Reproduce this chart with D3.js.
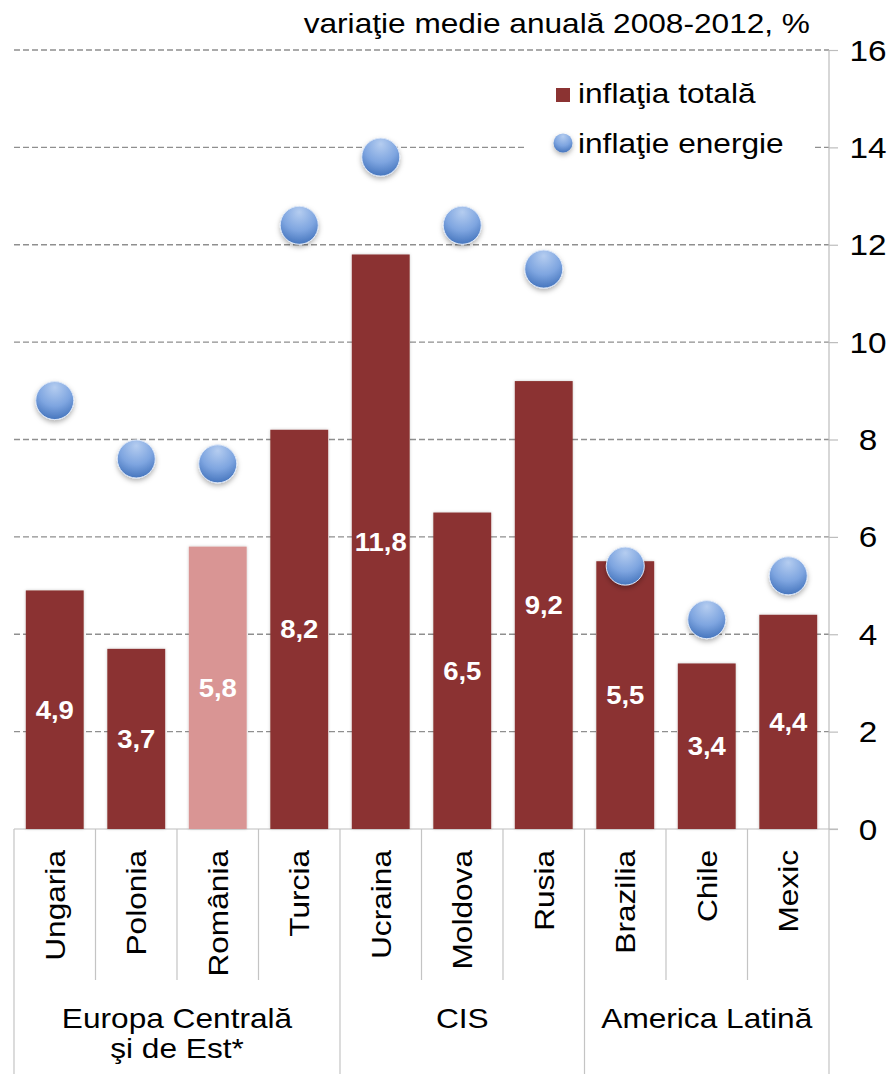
<!DOCTYPE html>
<html>
<head>
<meta charset="utf-8">
<script src="https://cdn.jsdelivr.net/npm/d3@7"></script>
<style>
  html, body { margin: 0; padding: 0; background: #fff; }
  svg { display: block; font-family: "Liberation Sans", Arial, Helvetica, sans-serif; }
</style>
</head>
<body>
<svg id="chart" width="896" height="1076"></svg>
<script>
// Average annual change 2008-2012, %
const categories = ["Ungaria", "Polonia", "România", "Turcia", "Ucraina", "Moldova", "Rusia", "Brazilia", "Chile", "Mexic"];
const totalInflation = [4.9, 3.7, 5.8, 8.2, 11.8, 6.5, 9.2, 5.5, 3.4, 4.4];
const energyInflation = [8.8, 7.6, 7.5, 12.4, 13.8, 12.4, 11.5, 5.4, 4.3, 5.2];
const highlighted = ["România"];
const groupNames = [["Europa Centrală", "şi de Est*"], ["CIS"], ["America Latină"]];
const groupMembers = [["Ungaria", "Polonia", "România", "Turcia"], ["Ucraina", "Moldova", "Rusia"], ["Brazilia", "Chile", "Mexic"]];
const yTicks = [0, 2, 4, 6, 8, 10, 12, 14, 16];
const titleText = "variaţie medie anuală 2008-2012, %";
const legendLabels = ["inflaţia totală", "inflaţie energie"];

const colors = { bar: "#8b3332", barHi: "#d99594", grid: "#8f8f8f", axis: "#bdbdbd", text: "#000" };
const SX = 1.13; // horizontal stretch of the lettering

const svg = d3.select("#chart");
const plotLeft = 14, plotRight = 829, plotTop = 50, plotBottom = 829;

const x = d3.scaleBand().domain(categories).range([plotLeft, plotRight]).padding(0);
const y = d3.scaleLinear().domain([0, 16]).range([plotBottom, plotTop]);
const step = x.step();
const barPad = step * 0.145;
const barW = step - 2 * barPad;

const defs = svg.append("defs");
const barShadow = defs.append("filter").attr("id", "barShadow")
  .attr("x", "-20%").attr("y", "-10%").attr("width", "140%").attr("height", "120%");
barShadow.append("feDropShadow").attr("dx", 0).attr("dy", 0).attr("stdDeviation", 1.6)
  .attr("flood-color", "#000").attr("flood-opacity", 0.22);

const dotShadow = defs.append("filter").attr("id", "dotShadow")
  .attr("x", "-50%").attr("y", "-50%").attr("width", "200%").attr("height", "200%");
dotShadow.append("feDropShadow").attr("dx", 0).attr("dy", 2.5).attr("stdDeviation", 2.5)
  .attr("flood-color", "#000").attr("flood-opacity", 0.3);

const grad = defs.append("radialGradient").attr("id", "dotGrad")
  .attr("cx", "50%").attr("cy", "25%").attr("r", "80%").attr("fx", "50%").attr("fy", "15%");
grad.append("stop").attr("offset", "0%").attr("stop-color", "#b5cdf0");
grad.append("stop").attr("offset", "55%").attr("stop-color", "#7ea5e0");
grad.append("stop").attr("offset", "100%").attr("stop-color", "#3e6fb9");

// Gridlines (dashed) with solid tick stubs on the right
svg.append("g").selectAll("line.grid")
  .data(yTicks.filter(t => t > 0))
  .join("line")
  .attr("x1", plotLeft).attr("x2", plotRight)
  .attr("y1", d => y(d)).attr("y2", d => y(d))
  .attr("stroke", colors.grid).attr("stroke-width", 1.4).attr("stroke-dasharray", "6,3");

const yAxis = d3.axisRight(y).tickValues(yTicks).tickSize(9).tickFormat("");
const axisG = svg.append("g").attr("transform", `translate(${plotRight},0)`).call(yAxis);
axisG.select(".domain").attr("stroke", colors.axis).attr("stroke-width", 1.2)
  .attr("d", `M0,${plotTop}V${plotBottom}`);
axisG.selectAll(".tick line").attr("stroke", colors.axis).attr("stroke-width", 1.2);

// Tick labels
svg.append("g").selectAll("g")
  .data(yTicks)
  .join("g")
  .attr("transform", d => `translate(868,${y(d) + 10.5}) scale(${SX},1)`)
  .append("text")
  .attr("text-anchor", "middle").attr("font-size", 29.5).attr("fill", colors.text)
  .text(d => d);

// Baseline
svg.append("line")
  .attr("x1", plotLeft).attr("x2", plotRight + 9).attr("y1", plotBottom).attr("y2", plotBottom)
  .attr("stroke", colors.axis).attr("stroke-width", 1.2);

// Bars
svg.append("g").selectAll("rect")
  .data(categories)
  .join("rect")
  .attr("x", d => x(d) + barPad)
  .attr("width", barW)
  .attr("y", (d, i) => y(totalInflation[i]))
  .attr("height", (d, i) => y(0) - y(totalInflation[i]))
  .attr("fill", d => highlighted.includes(d) ? colors.barHi : colors.bar)
  .attr("filter", "url(#barShadow)");

// Bar value labels
svg.append("g").selectAll("g")
  .data(categories)
  .join("g")
  .attr("transform", (d, i) => `translate(${x(d) + step / 2},${y(totalInflation[i] / 2) + 9}) scale(1.1,1)`)
  .append("text")
  .attr("text-anchor", "middle").attr("font-size", 25).attr("font-weight", "bold")
  .attr("fill", "#fff")
  .text((d, i) => String(totalInflation[i]).replace(".", ","));

// Energy inflation markers
svg.append("g").selectAll("circle")
  .data(categories)
  .join("circle")
  .attr("cx", d => x(d) + step / 2)
  .attr("cy", (d, i) => y(energyInflation[i]))
  .attr("r", 19)
  .attr("fill", "url(#dotGrad)")
  .attr("stroke", "#dbe6f7").attr("stroke-width", 1)
  .attr("filter", "url(#dotShadow)");

// Category separators and labels
const sepColor = "#c4c4c4";
const innerSeps = categories.slice(1).map(c => x(c))
  .filter(v => !groupMembers.some(g => x(g[0]) === v));
svg.append("g").selectAll("line")
  .data(innerSeps)
  .join("line")
  .attr("x1", d => d).attr("x2", d => d).attr("y1", plotBottom).attr("y2", 980)
  .attr("stroke", sepColor).attr("stroke-width", 1.2);

const groupEdges = groupMembers.map(g => x(g[0])).concat([plotRight]);
svg.append("g").selectAll("line")
  .data(groupEdges)
  .join("line")
  .attr("x1", d => d).attr("x2", d => d).attr("y1", plotBottom).attr("y2", 1074)
  .attr("stroke", sepColor).attr("stroke-width", 1.2);

svg.append("g").selectAll("g")
  .data(categories)
  .join("g")
  .attr("transform", d => `translate(${x(d) + step / 2 + 10},850) rotate(-90) scale(${SX},1)`)
  .append("text")
  .attr("text-anchor", "end").attr("font-size", 28).attr("fill", colors.text)
  .text(d => d);

// Group labels
groupMembers.forEach((g, gi) => {
  const cx = (x(g[0]) + x(g[g.length - 1]) + step) / 2;
  groupNames[gi].forEach((line, li) => {
    svg.append("g")
      .attr("transform", `translate(${cx},${1028 + li * 30}) scale(${SX},1)`)
      .append("text")
      .attr("text-anchor", "middle").attr("font-size", 28).attr("fill", colors.text)
      .text(line);
  });
});

// Title
svg.append("g")
  .attr("transform", `translate(810,33) scale(${SX},1)`)
  .append("text")
  .attr("text-anchor", "end").attr("font-size", 28).attr("fill", colors.text)
  .text(titleText);

// Legend
const legend = svg.append("g");
legend.append("rect").attr("x", 526).attr("y", 64).attr("width", 286).attr("height", 104).attr("fill", "#fff");
legend.append("rect").attr("x", 556).attr("y", 88).attr("width", 14).attr("height", 14).attr("fill", colors.bar);
legend.append("circle").attr("cx", 563).attr("cy", 143).attr("r", 9.5)
  .attr("fill", "url(#dotGrad)").attr("filter", "url(#dotShadow)");
legendLabels.forEach((t, i) => {
  legend.append("g")
    .attr("transform", `translate(578,${103 + i * 50}) scale(${SX},1)`)
    .append("text").attr("font-size", 28).attr("fill", colors.text).text(t);
});
</script>
</body>
</html>
